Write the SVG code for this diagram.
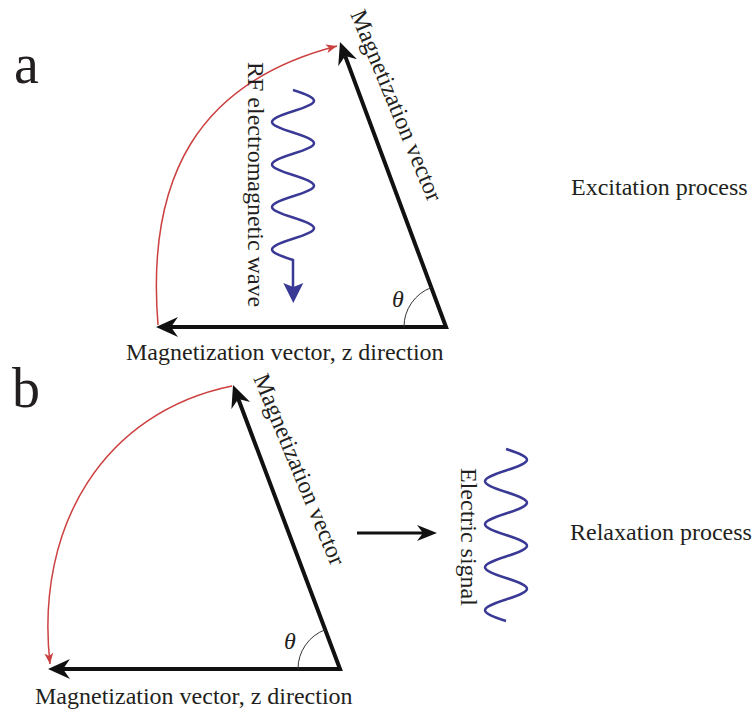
<svg xmlns="http://www.w3.org/2000/svg" width="756" height="711" viewBox="0 0 756 711">
<style>
.t{font-family:"Liberation Serif","Times New Roman",serif;font-size:24px;fill:#231f20}
.big{font-family:"Liberation Serif","Times New Roman",serif;font-size:56px;fill:#231f20}
.th{font-family:"Liberation Serif","Times New Roman",serif;font-size:24px;font-style:italic;fill:#231f20}
.vec{fill:none;stroke:#111;stroke-width:4;stroke-linejoin:miter;stroke-miterlimit:10}
.red{fill:none;stroke:#cc4040;stroke-width:1.5}
.wave{fill:none;stroke:#3a3a96;stroke-width:2.5}
.ang{fill:none;stroke:#333;stroke-width:1}
</style>
<defs>
<marker id="ah" markerUnits="userSpaceOnUse" viewBox="0 -11 24 22" markerWidth="24" markerHeight="22" refX="7" refY="0" orient="auto-start-reverse"><path d="M0,-10 L22,0 L0,10 L7,0 Z" fill="#111"/></marker>
<marker id="ah2" markerUnits="userSpaceOnUse" viewBox="0 -9 21 18" markerWidth="21" markerHeight="18" refX="6" refY="0" orient="auto"><path d="M0,-8 L20,0 L0,8 L6,0 Z" fill="#111"/></marker>
<marker id="rh" markerUnits="userSpaceOnUse" viewBox="0 -5 12 10" markerWidth="12" markerHeight="10" refX="11" refY="0" orient="auto"><path d="M0,-4.5 L11,0 L0,4.5 L3,0 Z" fill="#cc4040"/></marker>
</defs>
<rect width="756" height="711" fill="#fff"/>
<g id="panel-a">
<text class="big" x="14" y="83">a</text>
<g id="a-vectors">
<polyline class="vec" points="171,327 446,327 345.2,56.1" marker-start="url(#ah)" marker-end="url(#ah)"/>
<path class="red" d="M158,325 C146,177 198,82 337,46" marker-end="url(#rh)"/>
<path class="ang" d="M404,327 A42,42 0 0 1 431.3,287.6"/>
</g>
<g id="a-wave">
<path class="wave" d="M293,90 C321,99.02 321,102.23 293,111.25 S265,123.48 293,132.5 S321,144.73 293,153.75 S265,165.98 293,175 S321,187.23 293,196.25 S265,208.48 293,217.5 S321,229.73 293,238.75 S265,250.98 293,260 L293,288"/>
<path d="M283.3,283 L293.3,303 L303.3,283 L293.3,287 Z" fill="#3a3a96"/>
</g>
<text class="th" x="392" y="307">θ</text>
<text class="t" transform="translate(350,14) rotate(67.5)">Magnetization vector</text>
<text class="t" transform="translate(248,62) rotate(90)">RF electromagnetic wave</text>
<text class="t" x="126" y="360">Magnetization vector, z direction</text>
<text class="t" x="571" y="195">Excitation process</text>
</g>
<g id="panel-b">
<text class="big" x="12" y="407">b</text>
<g id="b-vectors">
<polyline class="vec" points="63,669 340,669 238.3,399" marker-start="url(#ah)" marker-end="url(#ah)"/>
<path class="red" d="M232,386 C104.6,412 34.6,525 50,664" marker-end="url(#rh)"/>
<path class="ang" d="M298,669 A42,42 0 0 1 325.2,629.7"/>
</g>
<line x1="357" y1="533" x2="423" y2="533" stroke="#111" stroke-width="3" marker-end="url(#ah2)"/>
<path class="wave" d="M506,449 C534,458.12 534,461.38 506,470.5 S478,482.88 506,492 S534,504.38 506,513.5 S478,525.88 506,535 S534,547.38 506,556.5 S478,568.88 506,578 S534,590.38 506,599.5 S478,611.88 506,621"/>
<text class="th" x="284" y="649">θ</text>
<text class="t" transform="translate(253,378) rotate(67.5)">Magnetization vector</text>
<text class="t" transform="translate(461,468) rotate(90)">Electric signal</text>
<text class="t" x="35" y="704">Magnetization vector, z direction</text>
<text class="t" x="570" y="540">Relaxation process</text>
</g>
</svg>
